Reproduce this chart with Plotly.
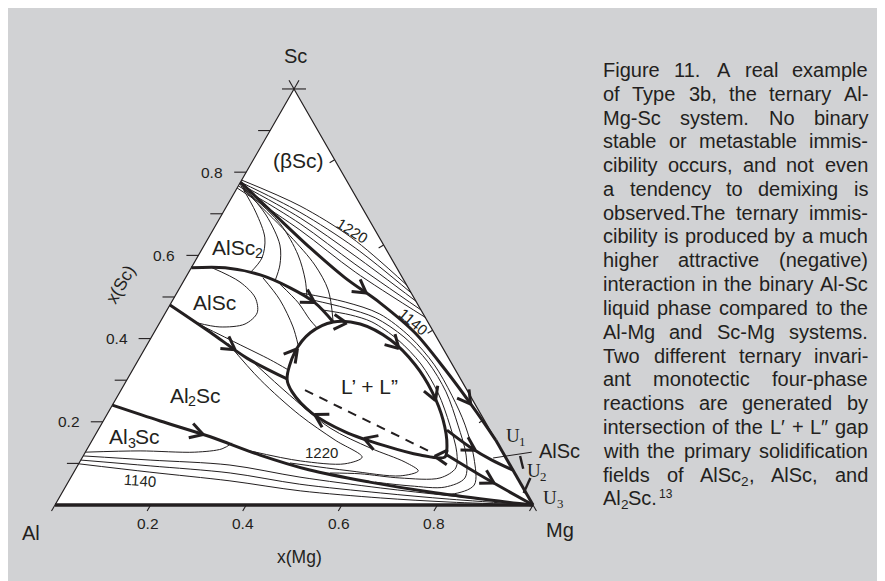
import math
import re
import plotly.graph_objects as go

H = math.sqrt(3) / 2
INK = '#231f20'
BG = '#d1d2d4'

# ---------------- data: compositions x(Mg), x(Sc) ----------------
# thick univariant lines
T1_mg = [0.000, 0.112, 0.225, 0.334, 0.437, 0.546, 0.654, 0.765, 0.844]
T1_sc = [0.776, 0.697, 0.618, 0.546, 0.486, 0.414, 0.325, 0.228, 0.156]
T2_mg = [0.000, 0.071, 0.153, 0.231, 0.301, 0.362]
T2_sc = [0.570, 0.570, 0.553, 0.522, 0.486, 0.440]
T2b_mg = [0.730, 0.799, 0.860, 0.916]
T2b_sc = [0.180, 0.139, 0.108, 0.084]
T3_mg = [0.000, 0.116, 0.225, 0.334]
T3_sc = [0.481, 0.416, 0.353, 0.303]
T3b_mg = [0.760, 0.853, 0.936, 1.000]
T3b_sc = [0.120, 0.072, 0.031, 0.000]
T4_mg = [0.000, 0.119, 0.243, 0.369, 0.491, 0.631, 0.769, 0.904, 1.000]
T4_sc = [0.240, 0.202, 0.164, 0.120, 0.084, 0.055, 0.031, 0.012, 0.000]
EDGE_mg = [0.844, 1.000]
EDGE_sc = [0.156, 0.000]

# miscibility gap L' + L'' (closed) and tie line
GAP_mg = [0.334, 0.318, 0.327, 0.362, 0.421, 0.503, 0.585, 0.653, 0.710, 0.748,
          0.758, 0.704, 0.620, 0.519, 0.427, 0.360, 0.334]
GAP_sc = [0.303, 0.368, 0.414, 0.440, 0.435, 0.397, 0.337, 0.272, 0.204, 0.144,
          0.115, 0.120, 0.142, 0.176, 0.221, 0.272, 0.303]
TIE_mg = [0.385, 0.728]
TIE_sc = [0.276, 0.125]

# thin isotherms
B1_mg = [0.000, 0.153, 0.300, 0.471]; B1_sc = [0.781, 0.719, 0.642, 0.529]
B2_mg = [0.000, 0.160, 0.319, 0.490]; B2_sc = [0.776, 0.704, 0.618, 0.510]
B3_mg = [0.000, 0.168, 0.328, 0.510]; B3_sc = [0.772, 0.690, 0.599, 0.490]
B4_mg = [0.000, 0.175, 0.338, 0.531]; B4_sc = [0.767, 0.676, 0.579, 0.469]
B5_mg = [0.000, 0.182, 0.348, 0.551]; B5_sc = [0.762, 0.661, 0.560, 0.450]
A1_mg = [0.004, 0.068, 0.118, 0.136, 0.129]; A1_sc = [0.769, 0.704, 0.642, 0.594, 0.558]
A2_mg = [0.008, 0.093, 0.158, 0.182, 0.191]; A2_sc = [0.767, 0.697, 0.625, 0.577, 0.538]
A3_mg = [0.012, 0.133, 0.208, 0.253, 0.278]; A3_sc = [0.762, 0.676, 0.601, 0.541, 0.498]
A4_mg = [0.017, 0.168, 0.255, 0.313, 0.359]; A4_sc = [0.757, 0.647, 0.577, 0.517, 0.445]
L1_mg = [0.044, 0.119, 0.170, 0.192, 0.180, 0.131, 0.078]
L1_sc = [0.570, 0.536, 0.498, 0.462, 0.435, 0.428, 0.438]
C1_mg = [0.162, 0.224, 0.284, 0.316]; C1_sc = [0.546, 0.493, 0.428, 0.385]
C2_mg = [0.205, 0.266, 0.311, 0.339]; C2_sc = [0.531, 0.486, 0.445, 0.423]
C3_mg = [0.087, 0.195, 0.276, 0.325]; C3_sc = [0.433, 0.385, 0.349, 0.325]
W1_mg = [0.324, 0.389, 0.443, 0.519, 0.596, 0.667, 0.730, 0.777, 0.794, 0.773, 0.689, 0.601, 0.537]
W1_sc = [0.469, 0.457, 0.440, 0.397, 0.339, 0.269, 0.192, 0.127, 0.089, 0.065, 0.065, 0.075, 0.077]
W2_mg = [0.291, 0.370, 0.445, 0.528, 0.608, 0.682, 0.747, 0.800, 0.825, 0.794, 0.720, 0.642]
W2_sc = [0.493, 0.474, 0.450, 0.404, 0.344, 0.272, 0.192, 0.120, 0.065, 0.043, 0.046, 0.055]
W3_mg = [0.258, 0.363, 0.450, 0.541, 0.625, 0.698, 0.762, 0.820, 0.853, 0.817, 0.759]
W3_sc = [0.510, 0.488, 0.459, 0.404, 0.337, 0.264, 0.192, 0.113, 0.048, 0.026, 0.031]
H1_mg = [0.167, 0.279, 0.404, 0.508, 0.585, 0.557, 0.460, 0.343]
H1_sc = [0.389, 0.301, 0.216, 0.156, 0.115, 0.099, 0.106, 0.130]
H2_mg = [0.239, 0.359, 0.483, 0.591, 0.681, 0.719, 0.687, 0.576, 0.441]
H2_sc = [0.346, 0.264, 0.185, 0.137, 0.103, 0.082, 0.070, 0.082, 0.101]
E0_mg = [0.000, 0.113, 0.229, 0.282, 0.296]; E0_sc = [0.127, 0.130, 0.127, 0.135, 0.149]
E1_mg = [0.000, 0.145, 0.318, 0.479, 0.660, 0.816, 1.000]
E1_sc = [0.118, 0.108, 0.096, 0.067, 0.041, 0.022, 0.000]
E2_mg = [0.000, 0.152, 0.328, 0.487, 0.666, 0.819, 1.000]
E2_sc = [0.108, 0.094, 0.077, 0.050, 0.029, 0.014, 0.000]
E3_mg = [0.000, 0.159, 0.337, 0.496, 0.672, 0.823, 1.000]
E3_sc = [0.099, 0.079, 0.058, 0.034, 0.017, 0.007, 0.000]

# axis ticks
SC_TICKS = [0.1, 0.2, 0.3, 0.4, 0.5, 0.6, 0.7, 0.8, 0.9, 1.0]
SC_LABELS = [0.2, 0.4, 0.6, 0.8]
MG_TICKS = [0.0, 0.2, 0.4, 0.6, 0.8, 1.0]
MG_LABELS = [0.2, 0.4, 0.6, 0.8]
RIGHT_TICKS = [0.205, 0.42, 0.625, 0.83]

CAPTION = [
    "Figure 11. A real example",
    "of Type 3b, the ternary Al-",
    "Mg-Sc system. No binary",
    "stable or metastable immis-",
    "cibility occurs, and not even",
    "a tendency to demixing is",
    "observed.The ternary immis-",
    "cibility is produced by a much",
    "higher attractive (negative)",
    "interaction in the binary Al-Sc",
    "liquid phase compared to the",
    "Al-Mg and Sc-Mg systems.",
    "Two different ternary invari-",
    "ant monotectic four-phase",
    "reactions are generated by",
    "intersection of the L\u2032 + L\u2033 gap",
    "with the primary solidification",
    "fields of AlSc_2, AlSc, and",
]
CAPTION_LAST = "Al_2Sc.^13"

# ---------------- figure ----------------
fig = go.Figure()
PX = 478.0      # pixels per x unit
PY = 480.4      # pixels per y unit
W_FIG, H_FIG = 885, 581


def to_xy(mg, sc):
    return [m + s / 2 for m, s in zip(mg, sc)], [s * H for s in sc]


def add_line(mg, sc, w, dash=None, shape='spline', smoothing=0.9):
    x, y = to_xy(mg, sc)
    fig.add_trace(go.Scatter(x=x, y=y, mode='lines',
                             line=dict(color=INK, width=w, shape=shape, dash=dash,
                                       smoothing=smoothing),
                             hoverinfo='skip', showlegend=False))


# white triangle
fig.add_trace(go.Scatter(x=[0, 1, 0.5, 0], y=[0, 0, H, 0], mode='lines', fill='toself',
                         fillcolor='white', line=dict(color=INK, width=1.2),
                         hoverinfo='skip', showlegend=False))

thin = [(B1_mg, B1_sc), (B2_mg, B2_sc), (B3_mg, B3_sc), (B4_mg, B4_sc), (B5_mg, B5_sc),
        (A1_mg, A1_sc), (A2_mg, A2_sc), (A3_mg, A3_sc), (A4_mg, A4_sc),
        (L1_mg, L1_sc), (C1_mg, C1_sc), (C2_mg, C2_sc), (C3_mg, C3_sc),
        (W1_mg, W1_sc), (W2_mg, W2_sc), (W3_mg, W3_sc), (H1_mg, H1_sc), (H2_mg, H2_sc),
        (E0_mg, E0_sc), (E1_mg, E1_sc), (E2_mg, E2_sc), (E3_mg, E3_sc)]
for mg, sc in thin:
    add_line(mg, sc, 1.0)

add_line(TIE_mg, TIE_sc, 2.0, dash='9px,7px', shape='linear')

thick = {'T1': (T1_mg, T1_sc), 'T2': (T2_mg, T2_sc), 'T2b': (T2b_mg, T2b_sc),
         'T3': (T3_mg, T3_sc), 'T3b': (T3b_mg, T3b_sc), 'T4': (T4_mg, T4_sc),
         'G': (GAP_mg, GAP_sc)}
for k, (mg, sc) in thick.items():
    add_line(mg, sc, 3.0)
add_line(EDGE_mg, EDGE_sc, 3.0, shape='linear')
add_line([0.0, 1.0], [0.0, 0.0], 3.6, shape='linear')

# arrowheads (chevrons) placed along the thick curves
ARROWS = [('T1', 0.46), ('T1', 0.88), ('T2', 0.83), ('T3', 0.57), ('T4', 0.22),
          ('T3b', 0.55), ('T2b', 0.45),
          ('G', 0.07), ('G', 0.2), ('G', 0.33), ('G', 0.47), ('G', 0.62),
          ('G', 0.78), ('G', 0.9)]


def point_at(xs, ys, f):
    seg = [math.hypot(xs[i + 1] - xs[i], ys[i + 1] - ys[i]) for i in range(len(xs) - 1)]
    L = sum(seg) * f
    for i, d in enumerate(seg):
        if L <= d or i == len(seg) - 1:
            t = min(L / d, 1.0)
            ux, uy = (xs[i + 1] - xs[i]) / d, (ys[i + 1] - ys[i]) / d
            return xs[i] + t * (xs[i + 1] - xs[i]), ys[i] + t * (ys[i + 1] - ys[i]), ux, uy
        L -= d


ax, ay = [], []
wing, ang = 0.031, math.radians(30)
for key, f in ARROWS:
    xs, ys = to_xy(*thick[key])
    px, py, ux, uy = point_at(xs, ys, f)
    for sgn in (1, -1):
        ca, sa = math.cos(sgn * ang), math.sin(sgn * ang)
        bx, by = ux * ca - uy * sa, ux * sa + uy * ca
        ax += [px, px - wing * bx, None]
        ay += [py, py - wing * by, None]
fig.add_trace(go.Scatter(x=ax, y=ay, mode='lines', line=dict(color=INK, width=3.0),
                         hoverinfo='skip', showlegend=False))

# ticks
tx, ty = [], []
for s in SC_TICKS:
    x0, y0 = s / 2, s * H
    tx += [x0 - 12 / PX, x0, None]; ty += [y0, y0, None]
tx += [0.5, 0.5 + 12 / PX, None]; ty += [H, H, None]
for m in MG_TICKS:
    tx += [m, m - 0.5 * 7 / PX, None]; ty += [0, -H * 7 / PY, None]
e = 10
tx += [0.5, 0.5 + 0.5 * e / PX, None]; ty += [H, H + H * e / PY, None]
tx += [0.5, 0.5 - 0.5 * e / PX, None]; ty += [H, H + H * e / PY, None]
tx += [1.0, 1.0 + 0.5 * 7 / PX, None]; ty += [0, -H * 7 / PY, None]
for s in RIGHT_TICKS:
    x0, y0 = 1 - s / 2, s * H
    tx += [x0, x0 - 5 / PX, None]; ty += [y0, y0 - 3 / PY, None]
fig.add_trace(go.Scatter(x=tx, y=ty, mode='lines', line=dict(color=INK, width=1.1),
                         hoverinfo='skip', showlegend=False))

# leader line for right-hand AlSc label and U marks
LEAD_mg = [0.860, 0.934]
LEAD_sc = [0.113, 0.127]
add_line(LEAD_mg, LEAD_sc, 1.0, shape='linear')
add_line([0.914, 0.936], [0.118, 0.087], 2.4, shape='linear')
add_line([0.962, 0.966], [0.065, 0.029], 2.4, shape='linear')

SANS = 'Liberation Sans, Arial, Helvetica, sans-serif'
SERIF = 'Liberation Serif, Times New Roman, serif'

# ---------------- glyph widths (Arial / Times metrics, 1/1000 em) ----------------
AW = {' ': 278, '!': 278, '"': 355, "'": 191, '(': 333, ')': 333, '+': 584, ',': 278,
      '-': 333, '.': 278, '/': 278, ':': 278, ';': 278, '\u2032': 191, '\u2033': 333,
      '\u03b2': 575, '\u2019': 222, '\u201d': 333}
for ch in '0123456789':
    AW[ch] = 556
AW.update(dict(zip('ABCDEFGHIJKLMNOPQRSTUVWXYZ',
                   [667, 667, 722, 722, 667, 611, 778, 722, 278, 500, 667, 556, 833, 722, 778,
                    667, 778, 722, 667, 611, 722, 667, 944, 667, 667, 611])))
AW.update(dict(zip('abcdefghijklmnopqrstuvwxyz',
                   [556, 556, 500, 556, 556, 278, 556, 556, 222, 222, 500, 222, 833, 556, 556,
                    556, 556, 333, 500, 278, 556, 500, 722, 500, 500, 500])))
TW = {'U': 722, '1': 500, '2': 500, '3': 500}


def parse(text):
    """split 'AlSc_2' / 'Sc.^13' into pieces (text, kind)"""
    pieces = []
    for tok in re.split(r'([_^]\d+)', text):
        if not tok:
            continue
        if tok[0] == '_':
            pieces.append((tok[1:], 'sub'))
        elif tok[0] == '^':
            pieces.append((tok[1:], 'sup'))
        else:
            pieces.append((tok, 'n'))
    return pieces


def pw(t, size, table=AW):
    return sum(table.get(c, 556) for c in t) / 1000 * size


def rich(text, mg, sc, size, font=SANS, table=AW, angle=0):
    pieces = parse(text)
    sizes = [size * (0.68 if k != 'n' else 1.0) for _, k in pieces]
    widths = [pw(t, s, table) for (t, _), s in zip(pieces, sizes)]
    x, y = mg + sc / 2, sc * H
    if len(pieces) == 1:
        fig.add_annotation(x=x, y=y, xref='x', yref='y', text=text, showarrow=False,
                           textangle=angle, xanchor='center', yanchor='middle', borderpad=0,
                           font=dict(family=font, size=size, color=INK))
        return
    off = -sum(widths) / 2
    for (t, k), s, w in zip(pieces, sizes, widths):
        ys = {'n': 0, 'sub': -0.30 * size, 'sup': 0.35 * size}[k]
        fig.add_annotation(x=x, y=y, xref='x', yref='y', text=t, showarrow=False,
                           xanchor='left', yanchor='middle', xshift=off, yshift=ys,
                           borderpad=0, font=dict(family=font, size=s, color=INK))
        off += w


for s in SC_LABELS:
    fig.add_annotation(x=s / 2 - 22 / PX, y=s * H, xref='x', yref='y', text=f'{s:.1f}',
                       showarrow=False, xanchor='right', yanchor='middle', borderpad=0,
                       font=dict(family=SANS, size=15.5, color=INK))
for m in MG_LABELS:
    fig.add_annotation(x=m - 3 / PX, y=-18 / PY, xref='x', yref='y', text=f'{m:.1f}',
                       showarrow=False, xanchor='center', yanchor='middle', borderpad=0,
                       font=dict(family=SANS, size=15.5, color=INK))

rich('Sc', -0.036, 1.079, 20)
rich('Al', -0.017, -0.067, 20)
rich('Mg', 1.087, -0.060, 20)
rich('x(Mg)', 0.575, -0.125, 17.5)
rich('x(Sc)', -0.128, 0.531, 17.5, angle=-60)
rich('(\u03b2Sc)', 0.094, 0.829, 21)
rich('AlSc_2', 0.069, 0.620, 21)
rich('AlSc', 0.090, 0.486, 21)
rich('Al_2Sc', 0.159, 0.264, 21)
rich('Al_3Sc', 0.082, 0.164, 21)
rich('L\u2019 + L\u201d', 0.514, 0.286, 21)
rich('1220', 0.291, 0.661, 15, angle=32)
rich('1140', 0.529, 0.440, 15, angle=40)
rich('1220', 0.495, 0.127, 15)
rich('1140', 0.148, 0.060, 15, angle=4)
rich('U_1', 0.879, 0.166, 19, font=SERIF, table=TW)
rich('AlSc', 0.990, 0.130, 20)
rich('U_2', 0.965, 0.082, 19, font=SERIF, table=TW)
rich('U_3', 1.031, 0.017, 19, font=SERIF, table=TW)

# ---------------- justified caption (page offset of 8 px removed) ----------------
FS = 20
LEFT, RIGHT = 594.0, 859.0
BASE0, LSP = 68.0, 23.8
ASC = 0.905


def cap_piece(text, xpx, basepx, size):
    fig.add_annotation(x=xpx / W_FIG, y=1 - (basepx - ASC * size) / H_FIG, xref='paper',
                       yref='paper', text=text, showarrow=False, xanchor='left',
                       yanchor='top', borderpad=0,
                       font=dict(family=SANS, size=size, color=INK))


def cap_word(word, xpx, base):
    for t, k in parse(word):
        if k == 'n':
            cap_piece(t, xpx, base, FS)
            xpx += pw(t, FS)
        elif k == 'sub':
            cap_piece(t, xpx, base + 0.22 * FS, FS * 0.68)
            xpx += pw(t, FS * 0.68)
        else:
            cap_piece(t, xpx + 2, base - 0.38 * FS, FS * 0.6)
            xpx += pw(t, FS * 0.6) + 2


def word_w(word):
    return sum(pw(t, FS * (1 if k == 'n' else 0.68)) for t, k in parse(word))


for i, ln in enumerate(CAPTION):
    words = ln.split(' ')
    widths = [word_w(w) for w in words]
    gap = (RIGHT - LEFT - sum(widths)) / (len(words) - 1)
    x = LEFT
    base = BASE0 + i * LSP
    for w, wd in zip(words, widths):
        cap_word(w, x, base)
        x += wd + gap
cap_word(CAPTION_LAST, LEFT, BASE0 + len(CAPTION) * LSP)

fig.update_xaxes(range=[-47 / PX, 838 / PX], visible=False, fixedrange=True)
fig.update_yaxes(range=[-84 / PY, 497 / PY], visible=False, fixedrange=True)
fig.update_layout(width=W_FIG, height=H_FIG, margin=dict(l=0, r=0, t=0, b=0),
                  paper_bgcolor=BG, plot_bgcolor=BG, showlegend=False)
fig.write_html('out.html')
